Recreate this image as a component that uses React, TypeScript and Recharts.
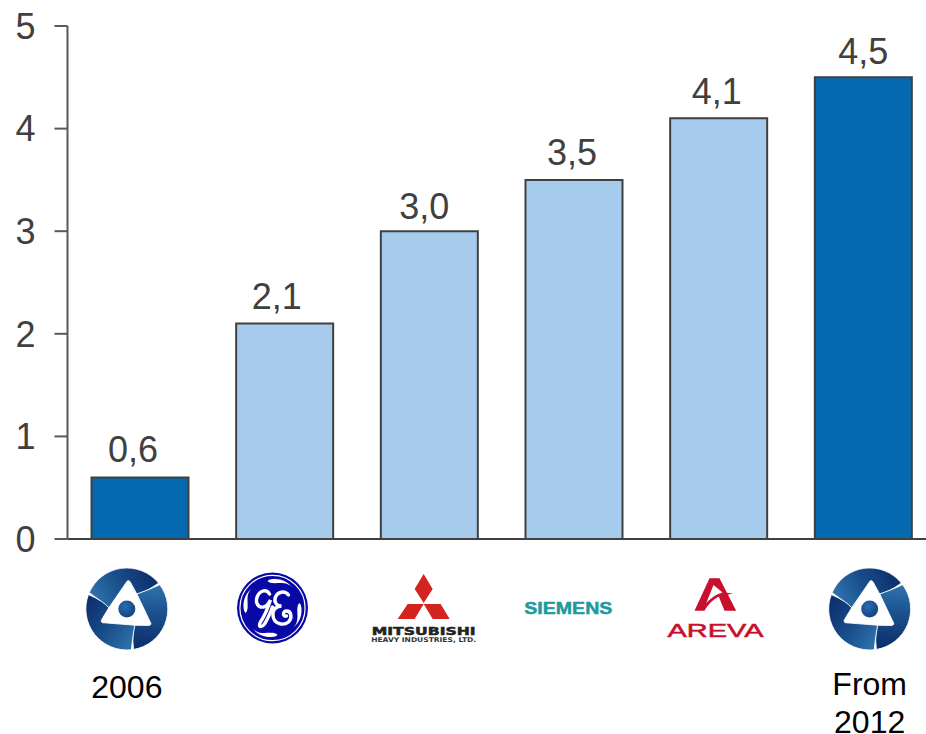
import React from "react";
import { BarChart, Bar, XAxis, YAxis, Cell, LabelList } from "recharts";

const categories = ["Rosatom 2006", "GE", "Mitsubishi", "Siemens", "Areva", "Rosatom 2012"];
const values = [0.6, 2.1, 3.0, 3.5, 4.1, 4.5];
const captions: string[][] = [["2006"], [], [], [], [], ["From", "2012"]];
const yTicks = [0, 1, 2, 3, 4, 5];
const rows = categories.map((name, i) => ({ name, value: values[i], caption: captions[i] }));

const FONT = '"Liberation Sans", Arial, sans-serif';
const DARK = "#0569b0";
const LIGHT = "#a6cbed";
const EDGE = "#404040";

function Rosatom({ id }: { id: string }) {
  const blade = "M-37.6,-16.4 A41,41 0 0 1 31.7,-26 Q18,-16 10,-15 L4,-26 Q1.5,-31 -1,-26 L-18,-1.2 Q-27,-9 -37.6,-16.4 Z";
  return (
    <g>
      <defs>
        <linearGradient id={id} x1="0" y1="0.6" x2="1" y2="0.3">
          <stop offset="0" stopColor="#2f74ad" />
          <stop offset="0.45" stopColor="#1a4f8c" />
          <stop offset="1" stopColor="#0b2a68" />
        </linearGradient>
        <radialGradient id={id + "b"} cx="0.4" cy="0.35" r="0.8">
          <stop offset="0" stopColor="#2a6db0" />
          <stop offset="1" stopColor="#0d3a78" />
        </radialGradient>
      </defs>
      {[0, 120, 240].map((a) => (
        <path key={a} d={blade} transform={`rotate(${a})`} fill={`url(#${id})`} stroke="#ffffff" strokeWidth={0.8} />
      ))}
      <circle r={8.5} fill={`url(#${id}b)`} />
    </g>
  );
}

function GE() {
  const swirl = "M-5,-27 C-3,-24 3,-25 8,-25 C13,-25 17,-24 20,-20 C16,-26 9,-29 3,-29 C0,-29 -3,-29 -5,-27 Z";
  return (
    <g transform="translate(0,-1)">
      <title>GE</title>
      <circle r={35.5} fill="#0808a5" />
      <circle r={32.6} fill="none" stroke="#ffffff" strokeWidth={1.2} />
      {[0, 90, 180, 270].map((a) => (
        <path key={a} d={swirl} transform={`rotate(${a})`} fill="#ffffff" />
      ))}
      <path
        d="M-3,-14 C-6,-19 -12,-18 -15,-12 C-18,-5 -14,0 -9,-1 C-5,-2 -3,-6 -2,-8 C-4,-2 -8,8 -12,14 C-15,19 -11,20 -8,16 C-4,10 -2,4 0,-1"
        fill="none"
        stroke="#ffffff"
        strokeWidth={3.4}
        strokeLinecap="round"
      />
      <path
        d="M16,-13 C12,-18 5,-16 3,-11 C1,-6 4,-2 9,-2 C3,-2 -1,3 1,10 C3,16 11,18 16,14 C20,10 19,3 14,3 C10,3 10,9 14,8"
        fill="none"
        stroke="#ffffff"
        strokeWidth={3.4}
        strokeLinecap="round"
      />
    </g>
  );
}

function Mitsubishi() {
  return (
    <g>
      <path d="M0,-35 L9,-20 L0,-6 L-9,-20 Z M-16,-5 L0,-5 L-9,10 L-26,10 Z M0,-5 L17,-5 L26,10 L9,10 Z" fill="#d3241f" />
      <text x={0} y={26} textAnchor="middle" fontFamily='"DejaVu Sans", sans-serif' fontWeight="bold" fontSize={11} textLength={104} lengthAdjust="spacingAndGlyphs" fill="#222222" stroke="#222222" strokeWidth={0.5}>MITSUBISHI</text>
      <text x={0} y={33} textAnchor="middle" fontFamily='"DejaVu Sans", sans-serif' fontWeight="bold" fontSize={6.5} textLength={105} lengthAdjust="spacingAndGlyphs" fill="#333333">HEAVY INDUSTRIES, LTD.</text>
    </g>
  );
}

function Siemens() {
  return (
    <text x={0} y={5} textAnchor="middle" fontFamily={FONT} fontWeight="bold" fontSize={17} textLength={88} lengthAdjust="spacingAndGlyphs" fill="#1f9a9e" stroke="#1f9a9e" strokeWidth={0.5}>SIEMENS</text>
  );
}

function Areva() {
  return (
    <g>
      <path
        d="M-6,-30.7 L4,-30.7 L20.7,1.7 L9,1.7 L3.3,-12.3 C-2,-10 -7,-5 -11,1.7 L-21,1.7 Z M-2,-24 L-9.3,-5.7 C-4,-12 2,-15.5 7.3,-16.3 Z"
        fill="#c8102e"
        fillRule="evenodd"
      />
      <path d="M6,-16.4 L17.3,-15.7 L6,-12.6 Z" fill="#c8102e" />
      <text x={0} y={28} textAnchor="middle" fontFamily={FONT} fontSize={18} textLength={96} lengthAdjust="spacingAndGlyphs" fill="#c8102e" stroke="#c8102e" strokeWidth={0.5}>AREVA</text>
    </g>
  );
}

const logoDx = [-13, -12, -5.5, -5.5, -3, 6.5];
const labelDx = [-7, -8, -5, -2, -2, 0];
const labelDy = [0, 0, 3, 0, 1, 2];

function LogoTick(props: any) {
  const { x, index } = props;
  const row = rows[index];
  const lx = x + logoDx[index];
  const ly = 609;
  return (
    <g>
      <g transform={`translate(${lx},${ly})`}>
        {index === 0 && <Rosatom id="rosA" />}
        {index === 1 && <GE />}
        {index === 2 && <Mitsubishi />}
        {index === 3 && <Siemens />}
        {index === 4 && <Areva />}
        {index === 5 && <Rosatom id="rosB" />}
      </g>
      {row.caption.map((line, i) => (
        <text key={line} x={lx} y={(row.caption.length > 1 ? 695 : 698) + i * 38} textAnchor="middle" fontFamily={FONT} fontSize={32} fill="#000000">
          {line}
        </text>
      ))}
    </g>
  );
}

function ValueLabel(props: any) {
  const { x, y, width, value, index } = props;
  return (
    <text x={x + width / 2 + labelDx[index]} y={y - 15 + labelDy[index]} textAnchor="middle" fontFamily={FONT} fontSize={36} fill={EDGE}>
      {Number(value).toFixed(1).replace(".", ",")}
    </text>
  );
}

export default function App() {
  return (
    <div style={{ position: "absolute", left: 0, top: 0, width: 926, height: 734, overflow: "hidden", background: "#ffffff" }}>
      <BarChart width={940} height={734} data={rows} margin={{ top: 26, right: 4.5, bottom: 0, left: 0 }} barSize={97}>
        <XAxis
          dataKey="name"
          height={195}
          interval={0}
          tickLine={false}
          axisLine={{ stroke: "#404040", strokeWidth: 2 }}
          tick={<LogoTick />}
        />
        <YAxis
          type="number"
          domain={[0, 5]}
          ticks={yTicks}
          width={67.5}
          interval={0}
          tickSize={13}
          tickMargin={19}
          axisLine={{ stroke: "#595959", strokeWidth: 2 }}
          tickLine={{ stroke: "#595959", strokeWidth: 2 }}
          tick={{ fontFamily: FONT, fontSize: 36, fill: EDGE }}
        />
        <Bar dataKey="value" stroke={EDGE} strokeWidth={2} isAnimationActive={false}>
          {rows.map((r, i) => (
            <Cell key={r.name} fill={i === 0 || i === rows.length - 1 ? DARK : LIGHT} />
          ))}
          <LabelList dataKey="value" content={<ValueLabel />} />
        </Bar>
      </BarChart>
    </div>
  );
}
